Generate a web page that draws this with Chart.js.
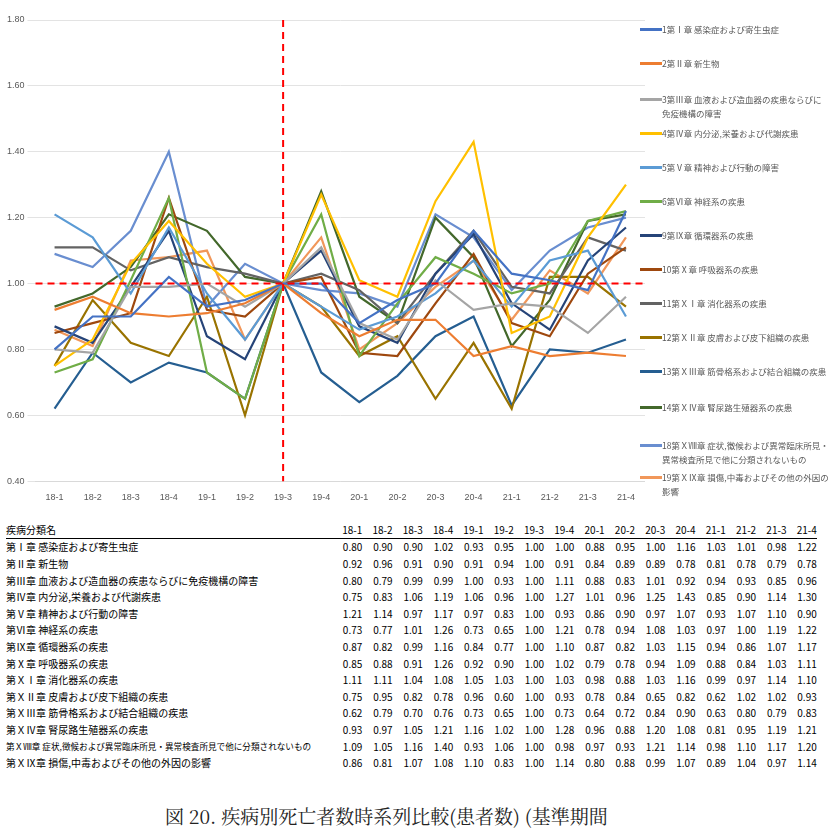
<!DOCTYPE html>
<html><head><meta charset="utf-8">
<script src="https://cdn.jsdelivr.net/npm/chart.js@4"></script>
<style>
body{margin:0;background:#fff;font-family:"Noto Sans CJK JP",sans-serif;width:830px;height:832px;position:relative;overflow:hidden}
#cw{position:absolute;left:0;top:0;width:645px;height:506px}
#leg{position:absolute;left:640px;top:14px;width:190px;font-size:8.5px;color:#595959}
.li{position:absolute;left:0;display:flex;align-items:flex-start;line-height:14px}
.sw{width:22px;height:3px;margin-top:6px;flex:none}
#tb{position:absolute;left:6px;top:521px;border-collapse:collapse;font-size:10px;color:#000}
#tb td,#tb th{padding:0;height:16.6px;font-weight:normal;white-space:nowrap}
#tb th{text-align:left;border-bottom:1.5px solid #000}
#tb .n{text-align:right;width:30.3px}
#cap{position:absolute;left:165px;top:802px;font-family:"Noto Serif CJK JP","Liberation Serif",serif;font-size:19px;color:#222}
</style></head><body>
<div id="cw"><canvas id="c"></canvas></div>
<div id="leg"></div>
<table id="tb"></table>
<div id="cap">図 20. 疾病別死亡者数時系列比較(患者数) (基準期間</div>
<script>
const periods=["18-1","18-2","18-3","18-4","19-1","19-2","19-3","19-4","20-1","20-2","20-3","20-4","21-1","21-2","21-3","21-4"];
const legendNames=["1第Ⅰ章 感染症および寄生虫症","2第Ⅱ章 新生物","3第Ⅲ章 血液および造血器の疾患ならびに免疫機構の障害","4第Ⅳ章 内分泌,栄養および代謝疾患","5第Ⅴ章 精神および行動の障害","6第Ⅵ章 神経系の疾患","9第Ⅸ章 循環器系の疾患","10第Ⅹ章 呼吸器系の疾患","11第ＸⅠ章 消化器系の疾患","12第ＸⅡ章 皮膚および皮下組織の疾患","13第ＸⅢ章 筋骨格系および結合組織の疾患","14第ＸⅣ章 腎尿路生殖器系の疾患","18第ＸⅧ章 症状,徴候および異常臨床所見・異常検査所見で他に分類されないもの","19第ＸⅨ章 損傷,中毒およびその他の外因の影響"];
const tableNames=["第Ⅰ章 感染症および寄生虫症","第Ⅱ章 新生物","第Ⅲ章 血液および造血器の疾患ならびに免疫機構の障害","第Ⅳ章 内分泌,栄養および代謝疾患","第Ⅴ章 精神および行動の障害","第Ⅵ章 神経系の疾患","第Ⅸ章 循環器系の疾患","第Ⅹ章 呼吸器系の疾患","第ＸⅠ章 消化器系の疾患","第ＸⅡ章 皮膚および皮下組織の疾患","第ＸⅢ章 筋骨格系および結合組織の疾患","第ＸⅣ章 腎尿路生殖器系の疾患","第ＸⅧ章 症状,徴候および異常臨床所見・異常検査所見で他に分類されないもの","第ＸⅨ章 損傷,中毒およびその他の外因の影響"];
const s1=[0.80,0.90,0.90,1.02,0.93,0.95,1.00,1.00,0.88,0.95,1.00,1.16,1.03,1.01,0.98,1.22];
const s2=[0.92,0.96,0.91,0.90,0.91,0.94,1.00,0.91,0.84,0.89,0.89,0.78,0.81,0.78,0.79,0.78];
const s3=[0.80,0.79,0.99,0.99,1.00,0.93,1.00,1.11,0.88,0.83,1.01,0.92,0.94,0.93,0.85,0.96];
const s4=[0.75,0.83,1.06,1.19,1.06,0.96,1.00,1.27,1.01,0.96,1.25,1.43,0.85,0.90,1.14,1.30];
const s5=[1.21,1.14,0.97,1.17,0.97,0.83,1.00,0.93,0.86,0.90,0.97,1.07,0.93,1.07,1.10,0.90];
const s6=[0.73,0.77,1.01,1.26,0.73,0.65,1.00,1.21,0.78,0.94,1.08,1.03,0.97,1.00,1.19,1.22];
const s9=[0.87,0.82,0.99,1.16,0.84,0.77,1.00,1.10,0.87,0.82,1.03,1.15,0.94,0.86,1.07,1.17];
const s10=[0.85,0.88,0.91,1.26,0.92,0.90,1.00,1.02,0.79,0.78,0.94,1.09,0.88,0.84,1.03,1.11];
const s11=[1.11,1.11,1.04,1.08,1.05,1.03,1.00,1.03,0.98,0.88,1.03,1.16,0.99,0.97,1.14,1.10];
const s12=[0.75,0.95,0.82,0.78,0.96,0.60,1.00,0.93,0.78,0.84,0.65,0.82,0.62,1.02,1.02,0.93];
const s13=[0.62,0.79,0.70,0.76,0.73,0.65,1.00,0.73,0.64,0.72,0.84,0.90,0.63,0.80,0.79,0.83];
const s14=[0.93,0.97,1.05,1.21,1.16,1.02,1.00,1.28,0.96,0.88,1.20,1.08,0.81,0.95,1.19,1.21];
const s18=[1.09,1.05,1.16,1.40,0.93,1.06,1.00,0.98,0.97,0.93,1.21,1.14,0.98,1.10,1.17,1.20];
const s19=[0.86,0.81,1.07,1.08,1.10,0.83,1.00,1.14,0.80,0.88,0.99,1.07,0.89,1.04,0.97,1.14];
const series=[s1,s2,s3,s4,s5,s6,s9,s10,s11,s12,s13,s14,s18,s19];
const colors=["#4472C4","#ED7D31","#A5A5A5","#FFC000","#5B9BD5","#70AD47","#264478","#9E480E","#636363","#997300","#255E91","#43682B","#698ED0","#F1975A"];
const legTops=[8,42,78,112,146,180,214,248,282,316,350,386,424,456];

const refLines={id:'ref',afterDatasetsDraw(ch){const {ctx,chartArea:a,scales:{x,y}}=ch;ctx.save();ctx.strokeStyle='#FF0000';ctx.lineWidth=2;ctx.setLineDash([7,5]);
const px=x.getPixelForValue(6);ctx.beginPath();ctx.moveTo(px,a.top);ctx.lineTo(px,a.bottom);ctx.stroke();
const py=y.getPixelForValue(1.0);ctx.beginPath();ctx.moveTo(a.left,py);ctx.lineTo(a.right,py);ctx.stroke();ctx.restore();}};

new Chart(document.getElementById('c'),{type:'line',
data:{labels:periods,datasets:series.map((d,i)=>({label:legendNames[i],data:d,borderColor:colors[i],backgroundColor:colors[i],borderWidth:2.2,pointRadius:0,tension:0}))},
options:{responsive:true,maintainAspectRatio:false,animation:false,
layout:{padding:{left:4,right:0,top:20,bottom:0}},
plugins:{legend:{display:false},tooltip:{enabled:false}},
scales:{x:{offset:true,grid:{display:false},border:{color:'#d9d9d9'},ticks:{color:'#595959',font:{size:9},maxRotation:0}},
y:{min:0.4,max:1.8,ticks:{stepSize:0.2,color:'#595959',font:{size:9},callback:v=>v.toFixed(2)},grid:{color:'#e3e3e3'},border:{display:false}}}},
plugins:[refLines]});

const leg=document.getElementById('leg');
legendNames.forEach((n,i)=>{const d=document.createElement('div');d.className='li';d.style.top=legTops[i]+'px';
d.innerHTML='<span class="sw" style="background:'+colors[i]+'"></span><span>'+n+'</span>';leg.appendChild(d);});

const tb=document.getElementById('tb');
let h='<tr><th style="width:326px">疾病分類名</th>'+periods.map(p=>'<th class="n" style="text-align:right">'+p+'</th>').join('')+'</tr>';
tableNames.forEach((n,i)=>{h+='<tr><td'+(i==12?' style="font-size:8.6px"':'')+'>'+n+'</td>'+series[i].map(v=>'<td class="n">'+v.toFixed(2)+'</td>').join('')+'</tr>';});
tb.innerHTML=h;
</script></body></html>
